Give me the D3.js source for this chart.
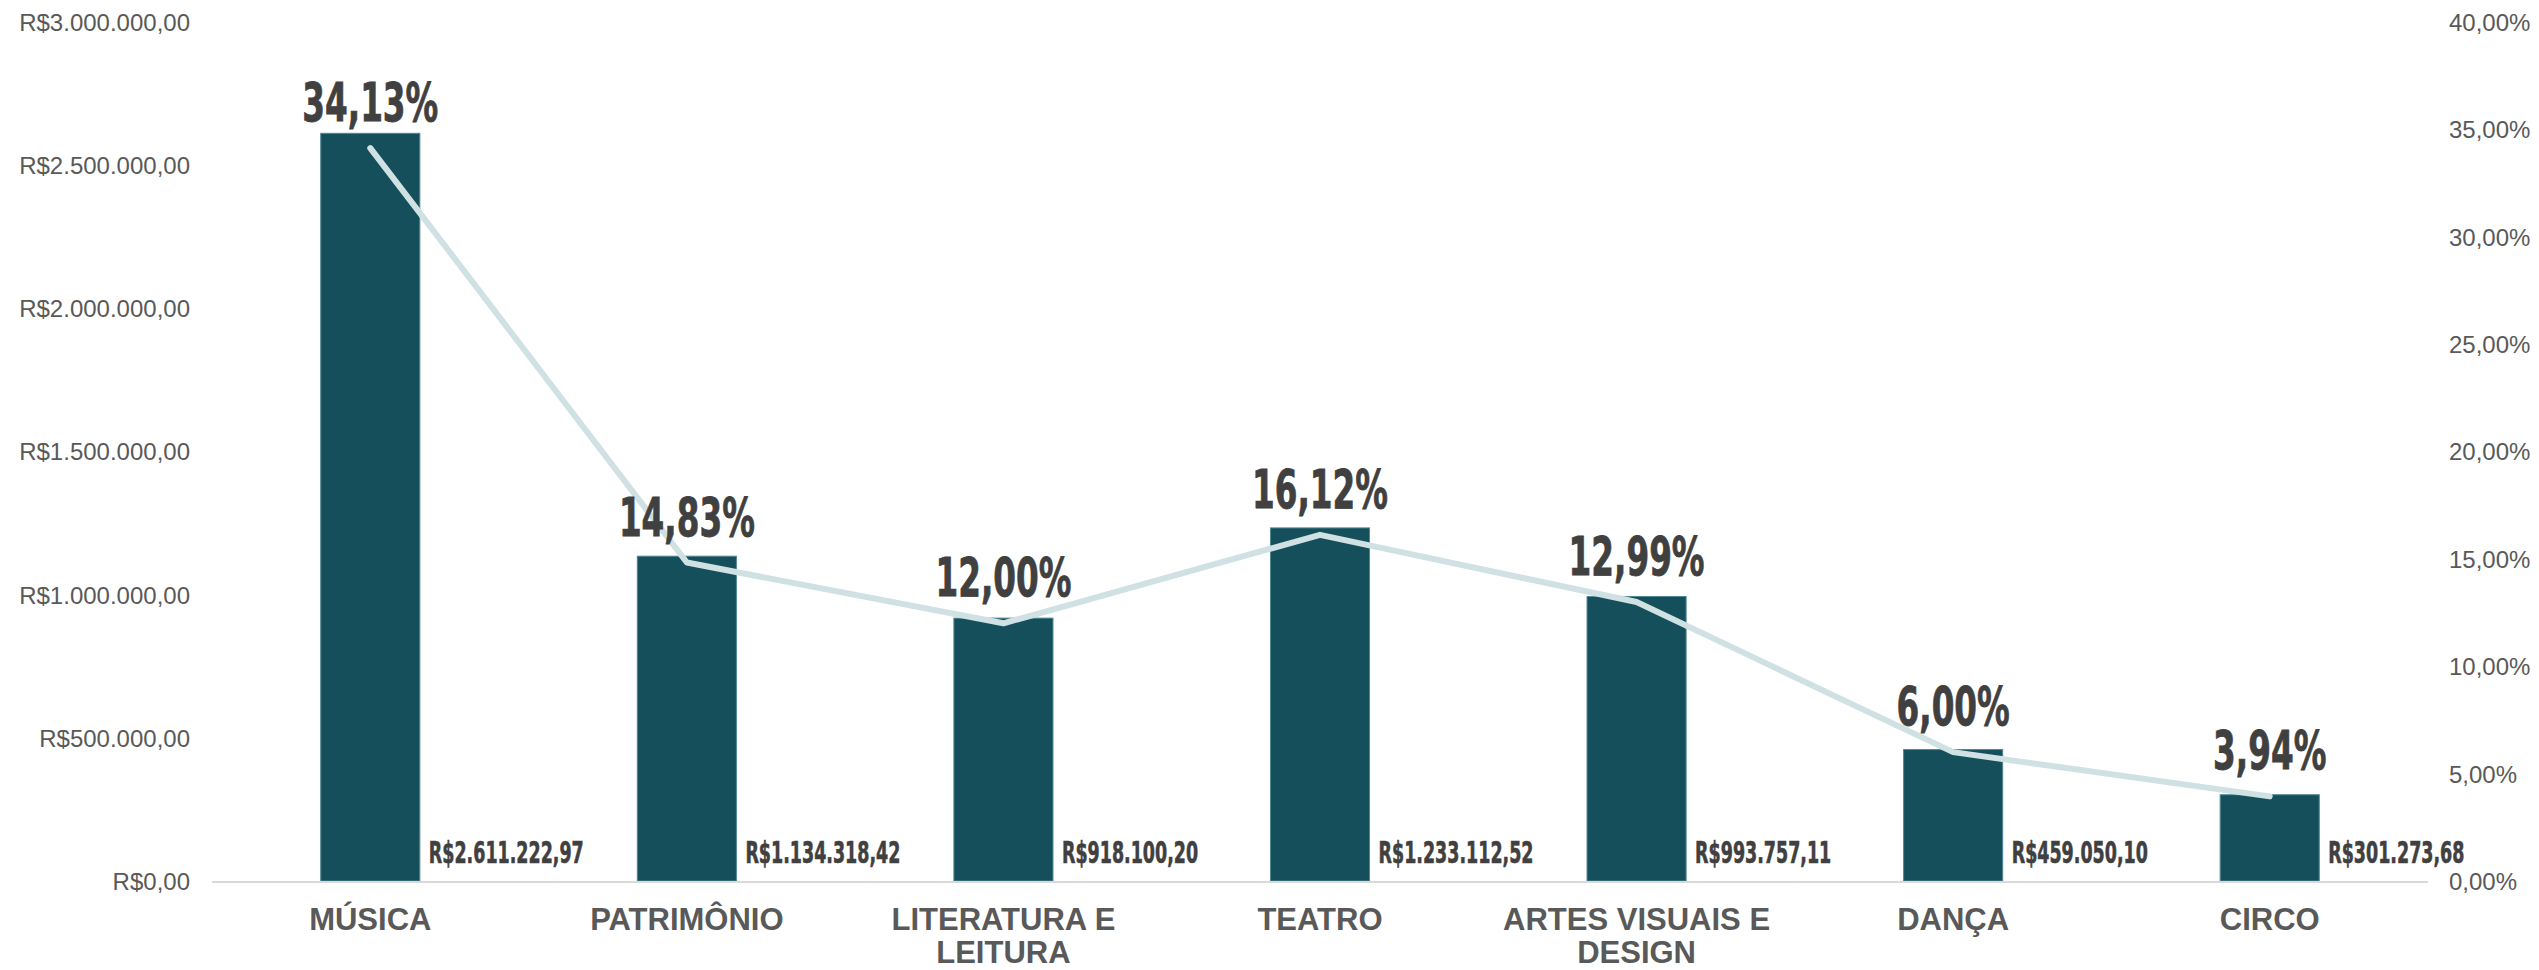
<!DOCTYPE html>
<html>
<head>
<meta charset="utf-8">
<script src="https://cdn.jsdelivr.net/npm/d3@7/dist/d3.min.js"></script>
<style>
  html, body { margin: 0; padding: 0; background: #ffffff; }
  svg { display: block; }
</style>
</head>
<body>
<svg id="chart" width="2539" height="970"></svg>
<script>
// ---- data ----
const categories = ["MÚSICA", "PATRIMÔNIO", "LITERATURA E\nLEITURA", "TEATRO", "ARTES VISUAIS E\nDESIGN", "DANÇA", "CIRCO"];
const amounts = [2611222.97, 1134318.42, 918100.20, 1233112.52, 993757.11, 459050.10, 301273.68];
const shares = [0.3413, 0.1483, 0.1200, 0.1612, 0.1299, 0.0600, 0.0394];
const leftTicks = [0, 500000, 1000000, 1500000, 2000000, 2500000, 3000000];
const rightTicks = [0, 0.05, 0.10, 0.15, 0.20, 0.25, 0.30, 0.35, 0.40];

(function () {
// ---- locale ----
const br = d3.formatLocale({ decimal: ",", thousands: ".", grouping: [3], currency: ["R$", ""] });
const fmtMoney = br.format("$,.2f");
const fmtPct = br.format(".2%");

const svg = d3.select("#chart");
const pLeft = 212, pRight = 2428, pTop = 22, pBottom = 881;

const x = d3.scaleBand().domain(categories).range([pLeft, pRight]).paddingInner(0.687).paddingOuter(0.3435);
const y = d3.scaleLinear().domain([0, 3000000]).range([pBottom, pTop]);
const y2 = d3.scaleLinear().domain([0, 0.40]).range([pBottom, pTop]);

const tickFont = "'Liberation Sans', Arial, sans-serif";
const condFont = "'Liberation Sans Narrow', 'Arial Narrow', 'DejaVu Sans Condensed', sans-serif";

// horizontal squeeze so the condensed labels match the reference widths
function squeeze(fontSize, sample, target) {
  const t = svg.append("text").attr("font-family", condFont).attr("font-weight", "bold")
    .attr("font-size", fontSize).text(sample);
  const w = t.node().getComputedTextLength();
  t.remove();
  return w > 0 ? Math.min(1, target / w) : 1;
}
const sVal = squeeze(30, fmtMoney(amounts[0]), 155);
const sPct = squeeze(53, fmtPct(shares[0]), 136);

// left axis
const gL = svg.append("g").attr("transform", `translate(${190},0)`)
  .call(d3.axisLeft(y).tickValues(leftTicks).tickSize(0).tickPadding(0).tickFormat(fmtMoney));
gL.select(".domain").remove();
gL.selectAll("text").attr("font-family", tickFont).attr("font-size", 24).attr("fill", "#595959").attr("dy", "0.35em");

// right axis
const gR = svg.append("g").attr("transform", `translate(${2449},0)`)
  .call(d3.axisRight(y2).tickValues(rightTicks).tickSize(0).tickPadding(0).tickFormat(fmtPct));
gR.select(".domain").remove();
gR.selectAll("text").attr("font-family", tickFont).attr("font-size", 24).attr("fill", "#595959").attr("dy", "0.35em");

// bars
const data = categories.map((c, i) => ({ c, v: amounts[i], p: shares[i] }));
svg.append("g").selectAll("rect").data(data).join("rect")
  .attr("x", d => x(d.c))
  .attr("y", d => y(d.v))
  .attr("width", x.bandwidth())
  .attr("height", d => y(0) - y(d.v))
  .attr("fill", "#164f5c")
  .attr("stroke", "#4f8793")
  .attr("stroke-width", 1);

// baseline
svg.append("line")
  .attr("x1", pLeft).attr("x2", pRight)
  .attr("y1", y(0) + 1).attr("y2", y(0) + 1)
  .attr("stroke", "#d9d9d9").attr("stroke-width", 2);

// line series
const line = d3.line().x(d => x(d.c) + x.bandwidth() / 2).y(d => y2(d.p));
svg.append("path").datum(data)
  .attr("d", line)
  .attr("fill", "none")
  .attr("stroke", "#d0e1e4")
  .attr("stroke-width", 6)
  .attr("stroke-linecap", "round")
  .attr("stroke-linejoin", "round");

// value labels (right of bars)
svg.append("g").selectAll("text").data(data).join("text")
  .attr("transform", d => `translate(${x(d.c) + x.bandwidth() + 9},${y(0) - 18}) scale(${sVal},1)`)
  .attr("font-family", condFont)
  .attr("font-weight", "bold")
  .attr("font-size", 30)
  .attr("fill", "#404040")
  .attr("stroke", "#404040")
  .attr("stroke-width", 0.6)
  .text(d => fmtMoney(d.v));

// percentage labels (above line points)
svg.append("g").selectAll("text").data(data).join("text")
  .attr("transform", d => `translate(${x(d.c) + x.bandwidth() / 2},${y2(d.p) - 27}) scale(${sPct},1)`)
  .attr("text-anchor", "middle")
  .attr("font-family", condFont)
  .attr("font-weight", "bold")
  .attr("font-size", 53)
  .attr("fill", "#404040")
  .attr("stroke", "#404040")
  .attr("stroke-width", 0.8)
  .text(d => fmtPct(d.p));

// category labels
const xl = svg.append("g").selectAll("text").data(categories).join("text")
  .attr("x", d => x(d) + x.bandwidth() / 2)
  .attr("y", 930)
  .attr("text-anchor", "middle")
  .attr("font-family", tickFont)
  .attr("font-weight", "bold")
  .attr("font-size", 31)
  .attr("fill", "#595959");
xl.each(function (d) {
  const t = d3.select(this);
  d.split("\n").forEach((ln, i) => {
    t.append("tspan").attr("x", x(d) + x.bandwidth() / 2).attr("dy", i === 0 ? 0 : 33).text(ln);
  });
});
})();
</script>
</body>
</html>
